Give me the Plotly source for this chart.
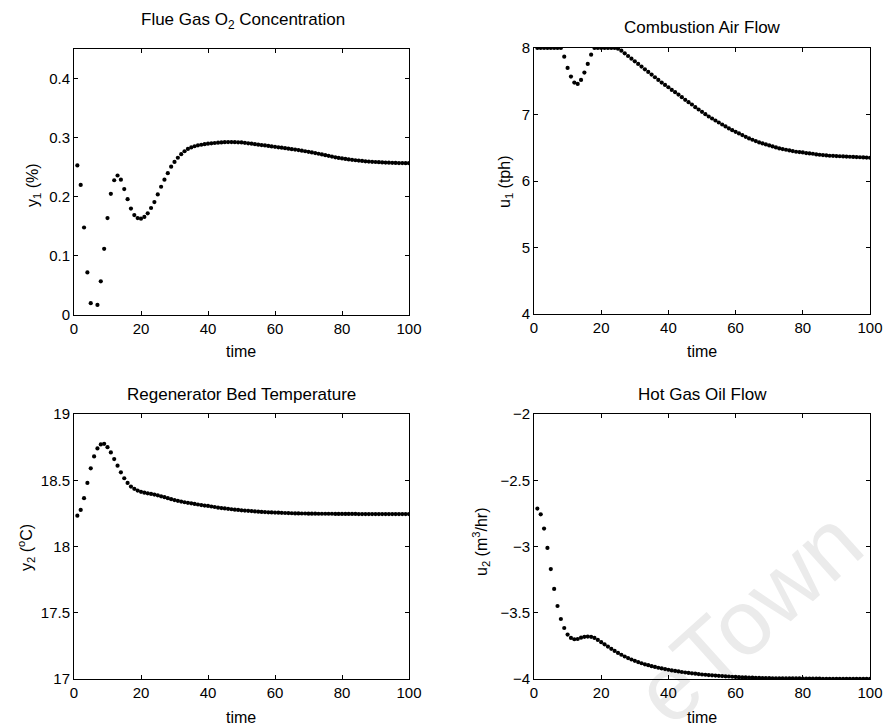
import plotly.graph_objects as go

W, H = 886, 725

time = list(range(1, 101))

y1_o2 = [0.253, 0.220, 0.148, 0.072, 0.020, -0.012, 0.017, 0.057, 0.112, 0.164,
         0.205, 0.228, 0.236, 0.229, 0.213, 0.196, 0.180, 0.169, 0.164, 0.163,
         0.166, 0.172, 0.181, 0.191, 0.204, 0.217, 0.229, 0.240, 0.251, 0.259,
         0.266, 0.272, 0.277, 0.281, 0.2835, 0.2855, 0.287, 0.288, 0.289, 0.2898,
         0.2905, 0.291, 0.2915, 0.292, 0.2923, 0.2925, 0.2925, 0.2924, 0.2922, 0.292,
         0.2912, 0.2905, 0.2898, 0.289, 0.2882, 0.2875, 0.2868, 0.286, 0.2852, 0.2845,
         0.2837, 0.283, 0.2822, 0.2814, 0.2806, 0.2798, 0.279, 0.278, 0.277, 0.276,
         0.275, 0.274, 0.2728, 0.2716, 0.2704, 0.2692, 0.268, 0.2668, 0.2658, 0.2648,
         0.264, 0.2632, 0.2625, 0.2618, 0.2612, 0.2606, 0.26, 0.2596, 0.2592, 0.2588,
         0.2585, 0.2582, 0.2579, 0.2577, 0.2575, 0.2573, 0.2571, 0.257, 0.2569, 0.2568]

u1_air = [8.0, 8.0, 8.0, 8.0, 8.0, 8.0, 8.0, 8.0, 7.87, 7.70,
          7.57, 7.48, 7.46, 7.52, 7.63, 7.76, 7.90, 8.0, 8.0, 8.0,
          8.0, 8.0, 8.0, 8.0, 7.99, 7.96, 7.92, 7.88, 7.84, 7.80,
          7.76, 7.72, 7.68, 7.64, 7.60, 7.56, 7.52, 7.48, 7.445, 7.41,
          7.37, 7.335, 7.30, 7.26, 7.22, 7.185, 7.15, 7.11, 7.075, 7.04,
          7.005, 6.97, 6.94, 6.91, 6.88, 6.85, 6.82, 6.79, 6.765, 6.74,
          6.715, 6.69, 6.665, 6.64, 6.62, 6.60, 6.58, 6.565, 6.55, 6.535,
          6.52, 6.505, 6.49, 6.48, 6.47, 6.46, 6.45, 6.44, 6.435, 6.43,
          6.42, 6.415, 6.41, 6.40, 6.395, 6.39, 6.385, 6.38, 6.378, 6.375,
          6.372, 6.37, 6.367, 6.365, 6.362, 6.36, 6.357, 6.355, 6.352, 6.35]

y2_temp = [18.233, 18.276, 18.365, 18.48, 18.59, 18.68, 18.74, 18.77, 18.775, 18.75,
           18.71, 18.66, 18.61, 18.56, 18.515, 18.48, 18.452, 18.435, 18.422, 18.413,
           18.406, 18.401, 18.397, 18.392, 18.386, 18.379, 18.372, 18.365, 18.357, 18.35,
           18.345, 18.339, 18.334, 18.33, 18.326, 18.321, 18.317, 18.313, 18.309, 18.306,
           18.302, 18.298, 18.294, 18.29, 18.287, 18.284, 18.281, 18.278, 18.276, 18.273,
           18.271, 18.269, 18.267, 18.265, 18.263, 18.261, 18.26, 18.258, 18.257, 18.256,
           18.255, 18.254, 18.253, 18.252, 18.251, 18.25, 18.25, 18.249, 18.249, 18.248,
           18.248, 18.248, 18.247, 18.247, 18.247, 18.247, 18.247, 18.246, 18.246, 18.246,
           18.246, 18.246, 18.246, 18.246, 18.245, 18.245, 18.245, 18.245, 18.245, 18.245,
           18.245, 18.245, 18.245, 18.245, 18.245, 18.245, 18.245, 18.245, 18.245, 18.245]

u2_oil = [-2.714, -2.757, -2.865, -3.011, -3.17, -3.32, -3.449, -3.547, -3.615, -3.665,
          -3.69, -3.70, -3.698, -3.688, -3.682, -3.68, -3.682, -3.69, -3.705, -3.722,
          -3.738, -3.755, -3.772, -3.788, -3.803, -3.817, -3.83, -3.842, -3.853, -3.863,
          -3.872, -3.881, -3.889, -3.896, -3.903, -3.909, -3.915, -3.92, -3.925, -3.93,
          -3.935, -3.939, -3.943, -3.947, -3.951, -3.954, -3.957, -3.96, -3.963, -3.966,
          -3.968, -3.97, -3.972, -3.974, -3.976, -3.978, -3.98, -3.981, -3.983, -3.984,
          -3.986, -3.987, -3.988, -3.989, -3.99, -3.991, -3.992, -3.993, -3.993, -3.994,
          -3.995, -3.995, -3.995, -3.995, -3.996, -3.996, -3.996, -3.996, -3.996, -3.997,
          -3.997, -3.997, -3.997, -3.997, -3.997, -3.998, -3.998, -3.998, -3.998, -3.998,
          -3.998, -3.998, -3.998, -3.999, -3.999, -3.999, -3.999, -3.999, -3.999, -3.999]

titles = ["Flue Gas O<sub>2</sub> Concentration", "Combustion Air Flow",
          "Regenerator Bed Temperature", "Hot Gas Oil Flow"]
ylabels = ["y<sub>1</sub> (%)", "u<sub>1</sub> (tph)",
           "y<sub>2</sub> (<sup>o</sup>C)", "u<sub>2</sub> (m<sup>3</sup>/hr)"]
xlabel = "time"
y_ranges = [[0, 0.45], [4, 8], [17, 19], [-4, -2]]
y_ticks = [[0, 0.1, 0.2, 0.3, 0.4], [4, 5, 6, 7, 8],
           [17, 17.5, 18, 18.5, 19], [-4, -3.5, -3, -2.5, -2]]
y_ticktext = [["0", "0.1", "0.2", "0.3", "0.4"], ["4", "5", "6", "7", "8"],
              ["17", "17.5", "18", "18.5", "19"], ["\u22124", "\u22123.5", "\u22123", "\u22122.5", "\u22122"]]
x_ticks = [0, 20, 40, 60, 80, 100]
series = [y1_o2, u1_air, y2_temp, u2_oil]

# plot-area boxes in pixels: (left, right, top, bottom)
boxes = [(74, 409, 49, 315), (534, 870, 48, 314),
         (74, 409, 414, 679), (534, 870, 414, 679)]
title_pos = [(243, 21), (702, 28), (241, 394), (702, 394)]
ylabel_pos = [(33, 185), (506, 182), (26, 548), (481, 542)]
xlabel_pos = [(241, 352), (702, 352), (241, 717), (702, 717)]

FONT = "Arial, Liberation Sans, Helvetica, sans-serif"

def px(x):
    return x / W

def py(y):
    return 1 - y / H

fig = go.Figure()
layout = dict(template="none", width=W, height=H,
              margin=dict(l=0, r=0, t=0, b=0, pad=0, autoexpand=False),
              paper_bgcolor="white", plot_bgcolor="white", showlegend=False,
              font=dict(family=FONT, size=15, color="black"))
annotations = []
for i in range(4):
    sfx = "" if i == 0 else str(i + 1)
    l, r, t, b = boxes[i]
    fig.add_trace(go.Scatter(x=time, y=series[i], mode="markers",
                             marker=dict(size=4.2, color="black", line=dict(width=0)),
                             xaxis="x" + sfx, yaxis="y" + sfx, cliponaxis=True))
    axcommon = dict(showgrid=False, zeroline=False, showline=True, linecolor="black",
                    linewidth=1, mirror="ticks", ticks="inside", ticklen=4,
                    tickcolor="black", tickwidth=1, automargin=False,
                    tickfont=dict(family=FONT, size=15, color="black"))
    layout["xaxis" + sfx] = dict(axcommon, domain=[px(l), px(r)], range=[0, 100],
                                 tickvals=x_ticks, anchor="y" + sfx)
    layout["yaxis" + sfx] = dict(axcommon, domain=[py(b), py(t)], range=y_ranges[i],
                                 tickvals=y_ticks[i], ticktext=y_ticktext[i],
                                 anchor="x" + sfx)
    tx, ty = title_pos[i]
    annotations.append(dict(text=titles[i], x=px(tx), y=py(ty), xref="paper", yref="paper",
                            showarrow=False, xanchor="center", yanchor="middle",
                            font=dict(family=FONT, size=17, color="black")))
    lx, ly = ylabel_pos[i]
    annotations.append(dict(text=ylabels[i], x=px(lx), y=py(ly), xref="paper", yref="paper",
                            showarrow=False, xanchor="center", yanchor="middle", textangle=-90,
                            font=dict(family=FONT, size=16, color="black")))
    xx, xy = xlabel_pos[i]
    annotations.append(dict(text=xlabel, x=px(xx), y=py(xy), xref="paper", yref="paper",
                            showarrow=False, xanchor="center", yanchor="middle",
                            font=dict(family=FONT, size=16, color="black")))

layout["annotations"] = annotations
layout["shapes"] = [
    # faint watermark behind the data
    dict(type="rect", xref="paper", yref="paper",
         x0=px(632), x1=px(852), y0=py(708), y1=py(512),
         line=dict(width=0), fillcolor="rgba(0,0,0,0)", layer="below",
         label=dict(text="eTown", textangle=-42, textposition="middle center",
                    font=dict(family=FONT, size=92, color="#ebebeb"))),
]
fig.update_layout(**layout)
fig.write_html("out.html",
               post_script="document.body.style.margin='0';document.body.style.padding='0';"
                           "document.documentElement.style.overflow='hidden';")
